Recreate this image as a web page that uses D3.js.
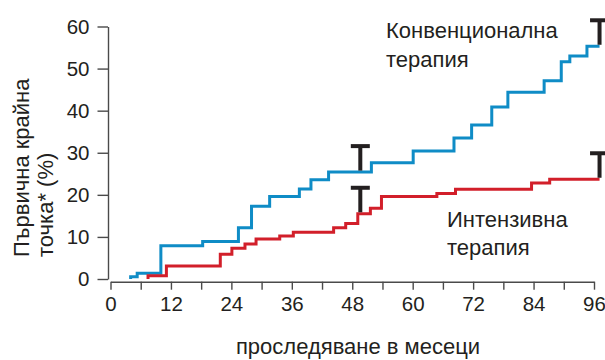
<!DOCTYPE html>
<html lang="bg">
<head>
<meta charset="utf-8">
<script src="https://cdn.jsdelivr.net/npm/d3@7"></script>
<style>
  html, body { margin: 0; padding: 0; background: #fff; }
  svg { display: block; }
  .lbl { font-family: "Liberation Sans", Arial, Helvetica, sans-serif; }
</style>
</head>
<body>
<svg id="chart" width="605" height="360"></svg>
<script>
// ---- data ----
const xTicks = [0, 6, 12, 18, 24, 30, 36, 42, 48, 54, 60, 66, 72, 78, 84, 90, 96];
const yTicks = [0, 10, 20, 30, 40, 50, 60];

const convMonths = [4, 5.3, 10, 18.3, 25.4, 28.0, 31.6, 37.5, 39.8, 43.3, 51.8, 60.1, 68.2, 71.7, 75.7, 78.9, 86.1, 89.5, 91.2, 94.6];
const convValues = [0.55, 1.35, 7.9, 8.9, 12.2, 17.3, 19.6, 21.4, 23.6, 25.4, 27.6, 30.4, 33.5, 36.6, 40.9, 44.4, 47.1, 51.6, 53.0, 55.3];

const intMonths = [7.45, 11.1, 21.8, 24.1, 26.7, 28.9, 33.6, 36.3, 44.3, 46.7, 49.1, 51.6, 53.8, 64.8, 68.5, 83.6, 87.2];
const intValues = [0.8, 3.1, 5.9, 7.3, 8.3, 9.5, 10.2, 11.1, 12.2, 13.2, 15.5, 16.8, 19.6, 20.3, 21.3, 22.8, 23.7];

const endMonth = 97.1;
const censorMonths = [49.6, 97.1];

const labels = {
  conv: ["Конвенционална", "терапия"],
  int: ["Интензивна", "терапия"],
  yTitle: ["Първична крайна", "точка* (%)"],
  xTitle: "проследяване в месеци"
};

// ---- drawing ----
const svg = d3.select("#chart");
const x = d3.scaleLinear().domain([0, 96]).range([110.5, 594]);
const y = d3.scaleLinear().domain([0, 60]).range([279, 26.5]);

const axisColor = "#4a4a4a";
const textColor = "#231f20";

const gy = svg.append("g").attr("transform", "translate(108,0)")
  .call(d3.axisLeft(y).tickValues(yTicks).tickSize(10.5).tickSizeOuter(0).tickPadding(8));
const gx = svg.append("g").attr("transform", "translate(0,281.7)")
  .call(d3.axisBottom(x).tickValues(xTicks).tickSize(8).tickSizeOuter(0).tickPadding(7)
    .tickFormat(d => d % 12 === 0 ? d : ""));

[gx, gy].forEach(g => {
  g.select(".domain").attr("stroke", axisColor).attr("stroke-width", 1.4);
  g.selectAll(".tick line").attr("stroke", axisColor).attr("stroke-width", 1.4);
  g.selectAll(".tick text").attr("fill", textColor)
    .style("font-family", "'Liberation Sans', Arial, sans-serif").style("font-size", "20.5px");
});

function stepPoints(months, values) {
  const pts = [[months[0], 0]];
  months.forEach((m, i) => pts.push([m, values[i]]));
  pts.push([endMonth, values[values.length - 1]]);
  return pts;
}
function valueAt(months, values, t) {
  let v = 0;
  months.forEach((m, i) => { if (m <= t) v = values[i]; });
  return v;
}

const line = d3.line().x(d => x(d[0])).y(d => y(d[1])).curve(d3.curveStepAfter);

const series = [
  { months: convMonths, values: convValues, color: "#0f8cc6" },
  { months: intMonths, values: intValues, color: "#d21f2a" }
];

series.forEach(s => {
  svg.append("path").datum(stepPoints(s.months, s.values))
    .attr("d", line).attr("fill", "none")
    .attr("stroke", s.color).attr("stroke-width", 3)
    .attr("stroke-linejoin", "miter").attr("stroke-linecap", "butt");
});

// censor marks
series.forEach(s => {
  censorMonths.forEach(t => {
    const cx = x(t), cy = y(valueAt(s.months, s.values, t));
    const g = svg.append("g").attr("stroke", textColor).attr("stroke-width", 4);
    g.append("line").attr("x1", cx).attr("x2", cx).attr("y1", cy - 1.5).attr("y2", cy - 26);
    g.append("line").attr("x1", cx - 9.5).attr("x2", cx + 9.5).attr("y1", cy - 26).attr("y2", cy - 26);
  });
});

// annotations
function multiline(xp, yp, lines, lh) {
  const t = svg.append("text").attr("class", "lbl").attr("lang", "bg")
    .attr("fill", textColor).style("font-size", "22px");
  lines.forEach((l, i) => t.append("tspan").attr("x", xp).attr("y", yp + i * lh).text(l));
  return t;
}
multiline(386, 37.5, labels.conv, 29);
multiline(447, 227, labels.int, 28);

// x title
svg.append("text").attr("class", "lbl").attr("lang", "bg")
  .attr("x", 358).attr("y", 354).attr("text-anchor", "middle")
  .attr("fill", textColor).style("font-size", "22px").text(labels.xTitle);

// y title
const yt = svg.append("text").attr("class", "lbl").attr("lang", "bg")
  .attr("transform", "translate(0,257) rotate(-90)")
  .attr("fill", textColor).style("font-size", "22px");
labels.yTitle.forEach((l, i) => yt.append("tspan").attr("x", 0).attr("y", 29 + i * 24).text(l));
</script>
</body>
</html>
